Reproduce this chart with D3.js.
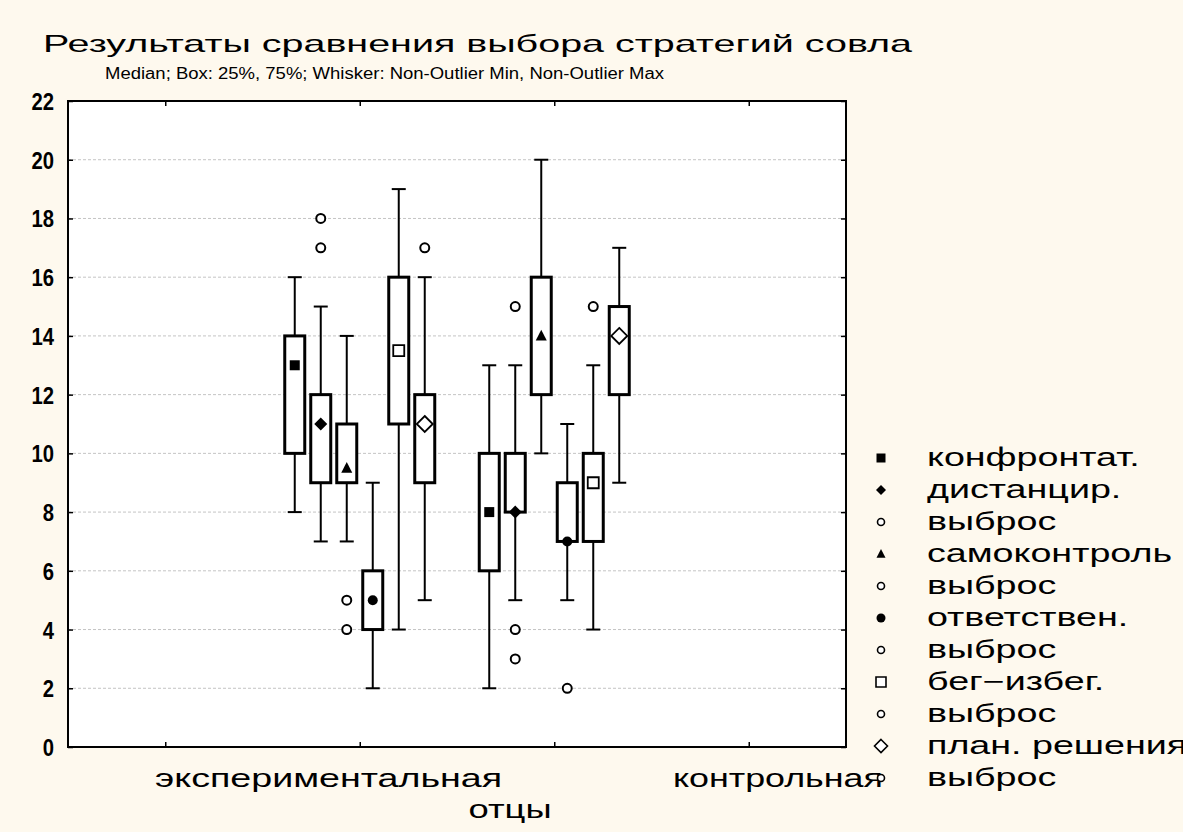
<!DOCTYPE html>
<html>
<head>
<meta charset="utf-8">
<script src="https://cdn.jsdelivr.net/npm/d3@7"></script>
<style>
  body { margin: 0; background: #fef9ee; overflow: hidden; }
  svg { display: block; }
</style>
</head>
<body>
<svg id="chart"></svg>
<script>
// box plot data
var groups = ["экспериментальная", "контрольная"];
var series = ["конфронтат.", "дистанцир.", "самоконтроль", "ответствен.", "бег−избег.", "план. решения"];
var whiskerLow  = [[8, 7, 7, 2, 4, 5],        [2, 5, 10, 5, 4, 9]];
var q1          = [[10, 9, 9, 4, 11, 9],      [6, 8, 12, 7, 7, 12]];
var median      = [[13, 11, 9.5, 5, 13.5, 11], [8, 8, 14, 7, 9, 14]];
var q3          = [[14, 12, 11, 6, 16, 12],   [10, 10, 16, 9, 10, 15]];
var whiskerHigh = [[16, 15, 14, 9, 19, 16],   [13, 13, 20, 11, 13, 17]];
var outliers    = [[[], [18, 17], [5, 4], [], [], [17]],
                   [[], [15, 4, 3], [], [2], [15], []]];
var yTicks = [0, 2, 4, 6, 8, 10, 12, 14, 16, 18, 20, 22];
var legendLabels = ["конфронтат.", "дистанцир.", "выброс", "самоконтроль", "выброс",
    "ответствен.", "выброс", "бег−избег.", "выброс", "план. решения", "выброс"];

var title = "Результаты сравнения выбора стратегий совла";
var subtitle = "Median;  Box: 25%, 75%;  Whisker: Non-Outlier Min, Non-Outlier Max";
var xTitle = "отцы";

var W = 1183, H = 832;
var plot = {left: 68, right: 846, top: 101, bottom: 747};

var svg = d3.select("#chart").attr("width", W).attr("height", H);
svg.append("rect").attr("width", W).attr("height", H).attr("fill", "#fef9ee");

var x = d3.scaleLinear().domain([0, 4]).range([plot.left, plot.right]);
var y = d3.scaleLinear().domain([0, 22]).range([plot.bottom, plot.top]);
var groupPos = [1.5, 2.5];
var inner = d3.scaleBand().domain(d3.range(series.length)).range([-78, 78]);

// marker shapes: square, diamond, triangle, circle
function shapePath(kind, s) {
    var p = d3.path();
    if (kind == "square") {
        p.rect(-s / 2, -s / 2, s, s);
    } else if (kind == "diamond") {
        p.moveTo(0, -s / 2); p.lineTo(s / 2, 0); p.lineTo(0, s / 2); p.lineTo(-s / 2, 0); p.closePath();
    } else if (kind == "triangle") {
        p.moveTo(0, -s * 0.55); p.lineTo(s / 2, s * 0.42); p.lineTo(-s / 2, s * 0.42); p.closePath();
    } else {
        p.arc(0, 0, s / 2, 0, 2 * Math.PI);
    }
    return p.toString();
}
var markerKind = ["square", "diamond", "triangle", "circle", "square", "diamond"];
var markerFill = ["#000", "#000", "#000", "#000", "#fff", "#fff"];
var markerSize = [10, 13, 11, 10, 11, 16];

// plot area
svg.append("rect")
    .attr("x", plot.left).attr("y", plot.top)
    .attr("width", plot.right - plot.left).attr("height", plot.bottom - plot.top)
    .attr("fill", "#fff");

svg.append("g").selectAll("line")
    .data(yTicks.filter(function (d) { return d > 0 && d < 22; }))
    .join("line")
    .attr("x1", plot.left).attr("x2", plot.right)
    .attr("y1", function (d) { return y(d); }).attr("y2", function (d) { return y(d); })
    .attr("stroke", "#c4c4c4").attr("stroke-width", 1).attr("stroke-dasharray", "3,2");

// axes with inward ticks
var tickVals = [0.5, 1.5, 2.5, 3.5];
svg.append("g").attr("transform", "translate(0," + plot.bottom + ")")
    .call(d3.axisTop(x).tickValues(tickVals).tickSize(5).tickFormat(""))
    .call(function (g) { g.select(".domain").remove(); });
svg.append("g").attr("transform", "translate(0," + plot.top + ")")
    .call(d3.axisBottom(x).tickValues(tickVals).tickSize(5).tickFormat(""))
    .call(function (g) { g.select(".domain").remove(); });
svg.append("g").attr("transform", "translate(" + plot.right + ",0)")
    .call(d3.axisLeft(y).tickValues(yTicks).tickSize(5).tickFormat(""))
    .call(function (g) { g.select(".domain").remove(); });
svg.append("g").attr("transform", "translate(" + plot.left + ",0)")
    .call(d3.axisRight(y).tickValues(yTicks).tickSize(5).tickFormat(""))
    .call(function (g) { g.select(".domain").remove(); });
svg.selectAll(".tick line").attr("stroke", "#000").attr("stroke-width", 1.5);

svg.append("rect")
    .attr("x", plot.left).attr("y", plot.top)
    .attr("width", plot.right - plot.left).attr("height", plot.bottom - plot.top)
    .attr("fill", "none").attr("stroke", "#000").attr("stroke-width", 2);

// y labels
svg.append("g").selectAll("text").data(yTicks).join("text")
    .attr("x", 54).attr("y", function (d) { return y(d) + 9; })
    .attr("text-anchor", "end")
    .attr("font-family", "Liberation Sans, Arial, sans-serif")
    .attr("font-weight", "bold").attr("font-size", 23)
    .attr("transform", function (d) { return "translate(" + (54 * 0.12) + ",0) scale(0.88,1)"; })
    .text(function (d) { return d; });

// boxes
var boxes = [];
groups.forEach(function (g, gi) {
    series.forEach(function (s, si) {
        boxes.push({g: gi, s: si, cx: x(groupPos[gi]) + inner(si) + inner.bandwidth() / 2});
    });
});

var bg = svg.append("g");
boxes.forEach(function (b) {
    var cell = bg.append("g");
    cell.append("line")
        .attr("x1", b.cx).attr("x2", b.cx)
        .attr("y1", y(whiskerHigh[b.g][b.s])).attr("y2", y(q3[b.g][b.s]))
        .attr("stroke", "#000").attr("stroke-width", 2);
    cell.append("line")
        .attr("x1", b.cx).attr("x2", b.cx)
        .attr("y1", y(q1[b.g][b.s])).attr("y2", y(whiskerLow[b.g][b.s]))
        .attr("stroke", "#000").attr("stroke-width", 2);
    [whiskerHigh[b.g][b.s], whiskerLow[b.g][b.s]].forEach(function (v) {
        cell.append("line")
            .attr("x1", b.cx - 7).attr("x2", b.cx + 7)
            .attr("y1", y(v)).attr("y2", y(v))
            .attr("stroke", "#000").attr("stroke-width", 2);
    });
    cell.append("rect")
        .attr("x", b.cx - 10).attr("width", 20)
        .attr("y", y(q3[b.g][b.s])).attr("height", y(q1[b.g][b.s]) - y(q3[b.g][b.s]))
        .attr("fill", "#fff").attr("stroke", "#000").attr("stroke-width", 3);
    cell.append("path")
        .attr("transform", "translate(" + b.cx + "," + y(median[b.g][b.s]) + ")")
        .attr("d", shapePath(markerKind[b.s], markerSize[b.s]))
        .attr("fill", markerFill[b.s]).attr("stroke", "#000")
        .attr("stroke-width", markerFill[b.s] == "#fff" ? 1.8 : 0);
    cell.selectAll("circle").data(outliers[b.g][b.s]).join("circle")
        .attr("cx", b.cx).attr("cy", function (d) { return y(d); })
        .attr("r", 4.5).attr("fill", "#fff").attr("stroke", "#000").attr("stroke-width", 2);
});

// texts
var font = "Liberation Sans, Arial, sans-serif";
function fitText(sel, w) {
    sel.attr("textLength", w).attr("lengthAdjust", "spacingAndGlyphs");
}
svg.append("text").attr("x", 43).attr("y", 52)
    .attr("font-family", font).attr("font-size", 24).text(title)
    .call(fitText, 869);
svg.append("text").attr("x", 105).attr("y", 79)
    .attr("font-family", "Liberation Sans Narrow, Liberation Sans, Arial, sans-serif")
    .attr("font-size", 16).text(subtitle)
    .call(fitText, 559);

var xLabelPos = [1.34, 3.65];
var xLabelWidth = [347, 210];
groups.forEach(function (g, i) {
    svg.append("text").attr("x", x(xLabelPos[i])).attr("y", 787)
        .attr("text-anchor", "middle")
        .attr("font-family", font).attr("font-size", 25).text(g)
        .call(fitText, xLabelWidth[i]);
});
svg.append("text").attr("x", 510).attr("y", 818)
    .attr("text-anchor", "middle")
    .attr("font-family", font).attr("font-size", 25).text(xTitle)
    .call(fitText, 83);

// legend
var legend = svg.append("g");
var probe = legend.append("text").attr("font-family", font).attr("font-size", 25).text("самоконтроль");
var stretch = 245 / probe.node().getComputedTextLength();
probe.remove();

var legendKind = [], legendFill = [], legendSize = [];
legendLabels.forEach(function (l) {
    var si = series.indexOf(l);
    if (si < 0) {
        legendKind.push("circle"); legendFill.push("#fff"); legendSize.push(7);
    } else {
        legendKind.push(markerKind[si]); legendFill.push(markerFill[si]);
        legendSize.push([9, 10, 9, 9, 10, 13][si]);
    }
});
var ly = d3.scalePoint().domain(d3.range(legendLabels.length)).range([458, 778]);
legendLabels.forEach(function (l, i) {
    legend.append("path")
        .attr("transform", "translate(881," + ly(i) + ")")
        .attr("d", shapePath(legendKind[i], legendSize[i]))
        .attr("fill", legendFill[i]).attr("stroke", "#000")
        .attr("stroke-width", legendFill[i] == "#fff" ? 1.6 : 0);
    var t = legend.append("text").attr("x", 927).attr("y", ly(i) + 8)
        .attr("font-family", font).attr("font-size", 25).text(l);
    t.call(fitText, t.node().getComputedTextLength() * stretch);
});
</script>
</body>
</html>
